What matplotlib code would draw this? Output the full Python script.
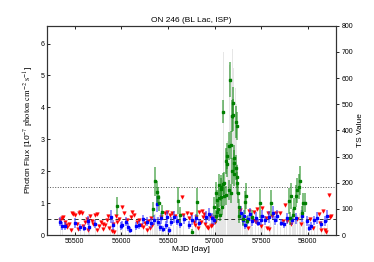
import numpy as np
import matplotlib
matplotlib.use("Agg")
import matplotlib.pyplot as plt

plt.rcParams['font.family'] = ['Liberation Sans', 'DejaVu Sans']
plt.rcParams['mathtext.fontset'] = 'stix'

# upper limits (red)
red_mjd = [55343, 55361, 55379, 55396, 55407, 55421, 55443, 55457, 55471, 55486,
           55503, 55521, 55539, 55550, 55557, 55575, 55593, 55611, 55628, 55646,
           55664, 55682, 55700, 55718, 55736, 55743, 55764, 55778, 55800, 55807,
           55825, 55843, 55853, 55871, 55896, 55907, 55925, 55939, 55957, 55978,
           56011, 56029, 56064, 56100, 56118, 56136, 56164, 56189, 56207, 56236,
           56250, 56271, 56286, 56307, 56321, 56332, 56421, 56464, 56493, 56521,
           56546, 56571, 56646, 56664, 56700, 56725, 56750, 56778, 56789, 56803,
           56817, 56828, 56849, 56860, 56874, 56885, 56896, 56921, 56931, 56946,
           56960, 56975, 56988, 57006, 57267, 57356, 57370, 57420, 57432, 57445,
           57458, 57495, 57506, 57549, 57560, 57571, 57585, 57610, 57656, 57702,
           57728, 57753, 57781, 57817, 57888, 57924, 58024, 58060, 58120, 58130,
           58145, 58167, 58181, 58192, 58227, 58238, 58252]
red_flux = [0.47, 0.52, 0.57, 0.42, 0.31, 0.24, 0.35, 0.16, 0.70, 0.65,
            0.63, 0.35, 0.18, 0.68, 0.72, 0.70, 0.28, 0.42, 0.49, 0.16,
            0.60, 0.45, 0.35, 0.63, 0.66, 0.16, 0.28, 0.42, 0.35, 0.18,
            0.31, 0.47, 0.60, 0.21, 0.14, 0.35, 0.10, 0.60, 0.42, 0.49,
            0.87, 0.68, 0.47, 0.57, 0.73, 0.63, 0.42, 0.47, 0.31, 0.24,
            0.37, 0.16, 0.45, 0.21, 0.52, 0.31, 0.57, 0.68, 0.73, 0.63,
            0.68, 0.60, 1.20, 0.63, 0.68, 0.52, 0.66, 0.42, 0.31, 0.57,
            0.23, 0.73, 0.42, 0.75, 0.57, 0.65, 0.33, 0.24, 0.23, 0.60,
            0.28, 0.31, 0.52, 0.42, 0.78, 0.21, 0.75, 0.73, 0.44, 0.42,
            0.80, 0.28, 0.84, 0.54, 0.21, 0.68, 0.18, 0.59, 0.70, 0.70,
            0.44, 0.94, 0.44, 0.33, 0.49, 0.33, 0.49, 0.23, 0.65, 0.39,
            0.15, 0.75, 0.16, 0.10, 1.25, 0.56, 0.59]

# low significance detections (blue)
blue_mjd = [55343, 55368, 55396, 55503, 55557, 55600, 55646, 55657, 55718, 55885,
            55914, 55993, 56011, 56047, 56072, 56093, 56154, 56189, 56236, 56279,
            56314, 56350, 56379, 56393, 56414, 56429, 56450, 56475, 56493, 56511,
            56529, 56564, 56593, 56629, 56671, 56725, 56761, 56799, 56835, 56906,
            56942, 56971, 56992, 57281, 57303, 57317, 57328, 57353, 57381, 57406,
            57442, 57467, 57499, 57513, 57538, 57585, 57631, 57645, 57674, 57710,
            57745, 57774, 57835, 57870, 57942, 57988, 58013, 58038, 58067, 58102,
            58145, 58181, 58209]
blue_flux = [0.42, 0.28, 0.28, 0.37, 0.24, 0.22, 0.45, 0.26, 0.35, 0.57,
             0.31, 0.28, 0.31, 0.42, 0.26, 0.16, 0.28, 0.31, 0.49, 0.42,
             0.37, 0.47, 0.97, 0.42, 0.26, 0.52, 0.18, 0.31, 0.57, 0.16,
             0.42, 0.57, 0.45, 0.35, 0.49, 0.31, 0.47, 0.52, 0.39, 0.56,
             0.65, 0.52, 0.47, 0.70, 0.47, 0.59, 0.31, 0.49, 0.65, 0.44,
             0.54, 0.39, 0.47, 0.59, 0.46, 0.56, 0.70, 0.46, 0.59, 0.39,
             0.33, 0.52, 0.46, 0.52, 0.59, 0.44, 0.23, 0.28, 0.46, 0.54,
             0.33, 0.44, 0.59]
blue_err = [0.15, 0.12, 0.12, 0.15, 0.10, 0.10, 0.15, 0.12, 0.12, 0.20,
            0.15, 0.12, 0.12, 0.15, 0.12, 0.10, 0.12, 0.12, 0.15, 0.15,
            0.15, 0.15, 0.25, 0.15, 0.12, 0.18, 0.10, 0.12, 0.18, 0.10,
            0.15, 0.18, 0.15, 0.12, 0.15, 0.12, 0.15, 0.15, 0.12, 0.18,
            0.20, 0.18, 0.15, 0.20, 0.15, 0.18, 0.12, 0.15, 0.20, 0.15,
            0.18, 0.12, 0.15, 0.18, 0.15, 0.18, 0.20, 0.15, 0.18, 0.12,
            0.12, 0.18, 0.15, 0.18, 0.18, 0.15, 0.10, 0.12, 0.15, 0.18,
            0.12, 0.15, 0.18]
blue_ts = [30, 22, 20, 28, 18, 16, 32, 20, 26, 40,
           24, 22, 24, 30, 20, 14, 22, 24, 36, 30,
           28, 34, 60, 30, 20, 38, 14, 24, 42, 14,
           30, 40, 34, 26, 36, 24, 34, 38, 30, 40,
           46, 38, 36, 48, 34, 42, 24, 36, 46, 32,
           40, 30, 34, 42, 34, 40, 50, 34, 42, 30,
           26, 38, 34, 38, 42, 32, 18, 22, 34, 40,
           26, 32, 42]

# significant detections (green)
green_mjd = [55957, 56335, 56361, 56378, 56392, 56407, 56440, 56603, 56629, 56761,
             56808, 56992, 57010, 57013, 57021, 57028, 57031, 57046, 57049, 57057,
             57064, 57067, 57071, 57082, 57085, 57092, 57099, 57103, 57117, 57121,
             57135, 57138, 57153, 57156, 57160, 57171, 57178, 57185, 57189, 57196,
             57199, 57203, 57206, 57210, 57224, 57228, 57235, 57238, 57242, 57249,
             57260, 57263, 57299, 57328, 57335, 57345, 57399, 57492, 57603, 57800,
             57810, 57817, 57842, 57852, 57870, 57888, 57906, 57917, 57942, 57949,
             57967]
green_flux = [0.91, 0.80, 1.68, 1.35, 1.20, 1.00, 0.73, 1.07, 0.63, 0.10,
              1.03, 0.89, 1.31, 0.59, 0.73, 1.10, 0.80, 1.57, 1.17, 0.63,
              1.20, 1.43, 1.52, 0.89, 1.59, 3.87, 1.62, 1.22, 1.25, 2.32,
              2.48, 2.21, 1.41, 2.79, 4.86, 2.82, 1.31, 3.73, 2.01, 4.15,
              3.76, 1.90, 2.25, 2.42, 3.55, 2.11, 1.83, 3.42, 1.62, 1.31,
              0.89, 0.59, 0.49, 1.02, 1.22, 0.44, 0.57, 0.99, 1.01, 1.07,
              0.52, 1.22, 0.63, 0.86, 1.22, 1.40, 1.52, 1.70, 0.70, 1.01,
              1.01]
green_err = [0.28, 0.25, 0.45, 0.35, 0.30, 0.25, 0.20, 0.42, 0.25, 0.08,
             0.45, 0.30, 0.35, 0.20, 0.25, 0.30, 0.25, 0.35, 0.30, 0.20,
             0.30, 0.35, 0.35, 0.25, 0.35, 0.37, 0.35, 0.30, 0.30, 0.40,
             0.40, 0.40, 0.30, 0.45, 0.55, 0.45, 0.30, 0.50, 0.40, 0.50,
             0.50, 0.35, 0.40, 0.40, 0.50, 0.40, 0.35, 0.45, 0.35, 0.30,
             0.25, 0.20, 0.20, 0.35, 0.40, 0.15, 0.20, 0.45, 0.40, 0.40,
             0.20, 0.40, 0.20, 0.30, 0.35, 0.40, 0.40, 0.45, 0.20, 0.30,
             0.30]
green_ts = [45, 50, 80, 70, 65, 55, 40, 45, 30, 10,
            40, 70, 90, 60, 80, 110, 100, 150, 130, 90,
            140, 170, 190, 130, 210, 700, 240, 200, 220, 330,
            360, 340, 280, 420, 650, 460, 320, 600, 430, 710,
            640, 420, 450, 460, 560, 400, 330, 500, 270, 220,
            140, 90, 50, 60, 65, 35, 40, 50, 55, 55,
            35, 60, 40, 55, 65, 75, 85, 95, 45, 55,
            50]

mean_flux = 0.49
thresh_flux = 1.5

fig = plt.figure(figsize=(3.74, 2.62), dpi=100)
ax = fig.add_axes([0.125, 0.103, 0.773, 0.799])
ax2 = ax.twinx()

# TS bars in the background
ax2.bar(green_mjd, green_ts, width=12, color='#e6e6e6', linewidth=0)
ax2.bar(blue_mjd, blue_ts, width=10, color='#e6e6e6', linewidth=0)
ax2.set_ylim(0, 800)
ax2.set_yticks(np.arange(0, 801, 100))
ax2.tick_params(axis='y', labelsize=5, direction='out', length=2.5, width=0.6, pad=1.5)
ax2.set_ylabel('TS Value', fontsize=6, labelpad=3)

ax.set_zorder(ax2.get_zorder() + 1)
ax.patch.set_visible(False)

ax.axhline(thresh_flux, color='#555555', ls=':', lw=0.7)
ax.axhline(mean_flux, color='#333333', ls='--', lw=0.7, dashes=(4, 3))

ax.plot(red_mjd, red_flux, 'v', color='red', ms=2.6, mec='red', mew=0.3)
ax.errorbar(blue_mjd, blue_flux, yerr=blue_err, fmt='s', color='blue', ms=2.0,
            ecolor=(0.2, 0.2, 1.0, 0.6), elinewidth=1.3, capsize=0)
ax.errorbar(green_mjd, green_flux, yerr=green_err, fmt='s', color='green', ms=2.0,
            ecolor=(0.1, 0.55, 0.1, 0.55), elinewidth=1.4, capsize=0)

ax.set_xlim(55200, 58300)
ax.set_ylim(0, 6.56)
ax.set_xticks(np.arange(55500, 58001, 500))
ax.set_yticks(np.arange(0, 7, 1))
ax.tick_params(axis='both', labelsize=5, direction='in', length=2.5, width=0.6,
               top=True, pad=2)
ax.tick_params(axis='y', pad=1.5)

for a in (ax, ax2):
    for s in a.spines.values():
        s.set_linewidth(0.8)
        s.set_color('#333333')

ax.set_xlabel('MJD [day]', fontsize=6, labelpad=1)
ax.set_ylabel(r'Photon Flux [10$^{-7}$ $\mathrm{photon\ cm^{-2}\ s^{-1}}$]', fontsize=6, labelpad=3)
ax.set_title('ON 246 (BL Lac, ISP)', fontsize=6, pad=3)

fig.savefig('out.png', dpi=100)
